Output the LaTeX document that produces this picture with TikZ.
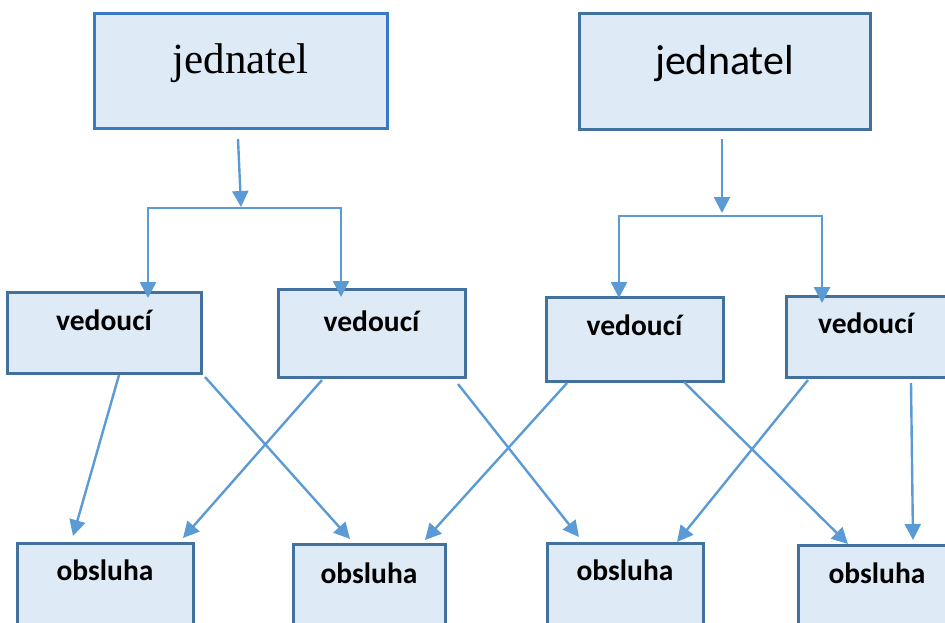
\documentclass[tikz,border=0pt]{standalone}
\usepackage{fontspec}
\setmainfont{Liberation Serif}
\newfontfamily\calfont{Carlito}
\usetikzlibrary{arrows.meta}
\definecolor{boxfill}{HTML}{DEEAF6}
\definecolor{boxline}{HTML}{41719C}
\definecolor{boxlineb}{HTML}{3A7AC2}
\definecolor{arrblue}{HTML}{5B9BD5}
\tikzset{
  orgbox/.style={draw=boxline, fill=boxfill, line width=3pt, rectangle, inner sep=0pt, outer sep=0pt, anchor=north west, align=center},
  smalltext/.style={font=\calfont\bfseries\fontsize{29.5}{34}\selectfont},
  arr/.style={draw=arrblue, line width=2.4pt, -{Triangle[length=16pt,width=16pt]}}
}
\begin{document}
\begin{tikzpicture}[x=1pt,y=-1pt]
\useasboundingbox (0,0) rectangle (945,622);
% top boxes
\node[orgbox, draw=boxlineb, minimum width=293pt, text height=60pt, text depth=55pt, font=\fontsize{43}{50}\selectfont] (j1) at (94,13) {jednatel};
\node[orgbox, minimum width=291pt, text height=61pt, text depth=55pt, font=\calfont\fontsize{42}{50}\selectfont] (j2) at (579,13) {jednatel};
% vedouci
\node[orgbox, smalltext, minimum width=194pt, text height=38pt, text depth=43pt] (v1) at (7,292) {vedoucí};
\node[orgbox, smalltext, minimum width=187pt, text height=42pt, text depth=46pt] (v2) at (278,289) {vedoucí};
\node[orgbox, smalltext, minimum width=177pt, text height=38pt, text depth=46pt] (v3) at (546,297) {vedoucí};
\node[orgbox, smalltext, minimum width=160pt, text height=37pt, text depth=44pt] (v4) at (786,296) {vedoucí};
% obsluha
\node[orgbox, smalltext, minimum width=176pt, text height=37pt, text depth=45pt] (o1) at (17,543) {obsluha};
\node[orgbox, smalltext, minimum width=152pt, text height=39pt, text depth=43pt] (o2) at (293,544) {obsluha};
\node[orgbox, smalltext, minimum width=156pt, text height=37pt, text depth=45pt] (o3) at (547,543) {obsluha};
\node[orgbox, smalltext, minimum width=158pt, text height=38pt, text depth=44pt] (o4) at (798,545) {obsluha};
% junctions
\coordinate (b1) at (241,208);
\coordinate (b2) at (722,216);
% top connectors left
\draw[arr] ([xshift=-2.5pt,yshift=-11pt]j1.south) -- ([yshift=1pt]b1);
\draw[arr] (b1) -| ([xshift=44pt,yshift=-6pt]v1.north);
\draw[arr] (b1) -| ([xshift=-30.5pt,yshift=-8pt]v2.north);
% top connectors right
\draw[arr] ([xshift=-2.5pt,yshift=-10pt]j2.south) -- ([yshift=3pt]b2);
\draw[arr] (b2) -| ([xshift=-15.5pt,yshift=-1pt]v3.north);
\draw[arr] (b2) -| ([xshift=-44pt,yshift=-7pt]v4.north);
% cross connectors
\draw[arr] ([xshift=15pt,yshift=-2pt]v1.south) -- ([xshift=-32pt,yshift=7pt]o1.north);
\draw[arr] ([xshift=101pt,yshift=-4pt]v1.south) -- ([xshift=-19pt,yshift=5pt]o2.north);
\draw[arr] ([xshift=-49.5pt,yshift=-3pt]v2.south) -- ([xshift=78pt,yshift=5pt]o1.north);
\draw[arr] ([xshift=86.5pt,yshift=-7pt]v2.south) -- ([xshift=-46pt,yshift=6pt]o3.north);
\draw[arr] ([xshift=-67.5pt,yshift=-2pt]v3.south) -- ([xshift=56pt,yshift=4pt]o2.north);
\draw[arr] ([xshift=49.5pt,yshift=-1pt]v3.south) -- ([xshift=-29pt,yshift=1pt]o4.north);
\draw[arr] ([xshift=-58pt,yshift=-3pt]v4.south) -- ([xshift=52pt,yshift=1pt]o3.north);
\draw[arr] ([xshift=45pt,yshift=-6pt]v4.south) -- ([xshift=36pt,yshift=5pt]o4.north);
\end{tikzpicture}
\end{document}
